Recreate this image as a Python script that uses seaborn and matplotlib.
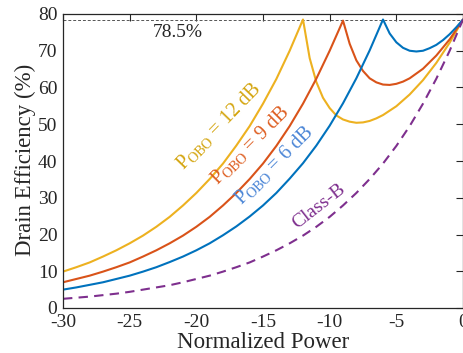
import numpy as np
import pandas as pd
import seaborn as sns
import matplotlib.pyplot as plt

# Valores (potência normalizada em dB, eficiência em %)
pot_b = [-30, -29, -28, -27, -26, -25, -24, -23, -22, -21, -20, -19, -18, -17, -16,
         -15, -14, -13, -12, -11, -10, -9, -8, -7, -6, -5, -4, -3, -2, -1, 0]
ef_b = [2.5, 2.8, 3.1, 3.5, 3.9, 4.4, 5.0, 5.6, 6.2, 7.0, 7.9, 8.8, 9.9, 11.1, 12.4,
        14.0, 15.7, 17.6, 19.7, 22.1, 24.8, 27.9, 31.3, 35.1, 39.3, 44.1, 49.5, 55.6,
        62.4, 70.0, 78.5]

pot_6 = [-30, -29, -28, -27, -26, -25, -24, -23, -22, -21, -20, -19, -18, -17, -16,
         -15, -14, -13, -12, -11, -10, -9, -8, -7, -6, -5.5, -5, -4.5, -4, -3.5, -3,
         -2.5, -2, -1.5, -1, -0.5, 0]
ef_6 = [5.0, 5.6, 6.3, 7.0, 7.9, 8.8, 9.9, 11.1, 12.5, 14.0, 15.7, 17.6, 19.8, 22.2,
        24.9, 27.9, 31.3, 35.2, 39.4, 44.2, 49.6, 55.7, 62.5, 70.1, 78.5, 74.7, 72.3,
        70.8, 70.0, 69.8, 70.0, 70.7, 71.6, 72.9, 74.5, 76.4, 78.5]

pot_9 = [-30, -29, -28, -27, -26, -25, -24, -23, -22, -21, -20, -19, -18, -17, -16,
         -15, -14, -13, -12, -11, -10, -9, -8.5, -8, -7.5, -7, -6.5, -6, -5.5, -5,
         -4.5, -4, -3, -2, -1, 0]
ef_9 = [7.0, 7.9, 8.8, 9.9, 11.1, 12.4, 14.0, 15.7, 17.6, 19.7, 22.1, 24.8, 27.9,
        31.3, 35.1, 39.3, 44.1, 49.5, 55.6, 62.4, 70.0, 78.2, 71.9, 67.4, 64.5, 62.5,
        61.4, 60.8, 60.7, 61.0, 61.6, 62.5, 65.1, 68.7, 73.1, 78.5]

pot_12 = [-30, -29, -28, -27, -26, -25, -24, -23, -22, -21, -20, -19, -18, -17, -16,
          -15, -14, -13, -12, -11.5, -11, -10.5, -10, -9.5, -9, -8.5, -8, -7.5, -7,
          -6.5, -6, -5, -4, -3, -2, -1, 0]
ef_12 = [9.9, 11.1, 12.4, 14.0, 15.7, 17.6, 19.7, 22.1, 24.8, 27.9, 31.3, 35.1, 39.3,
         44.2, 49.5, 55.6, 62.3, 70.0, 78.5, 68.0, 61.5, 57.2, 54.4, 52.4, 51.3, 50.7,
         50.4, 50.5, 50.9, 51.6, 52.5, 54.9, 58.1, 62.0, 66.7, 72.2, 78.5]

ef_max = 78.5

# Configuração visual
sns.set_style("white")
plt.rcParams['font.family'] = ['Liberation Serif', 'DejaVu Serif']
plt.rcParams['mathtext.fontset'] = 'custom'
plt.rcParams['mathtext.rm'] = 'Liberation Serif'
plt.rcParams['mathtext.it'] = 'Liberation Serif:italic'
plt.rcParams['axes.unicode_minus'] = False

cor_azul = '#0072BD'
cor_verm = '#D95319'
cor_amar = '#EDB120'
cor_roxo = '#7E2F8E'

fig = plt.figure(figsize=(4.64, 3.53), dpi=100)
ax = fig.add_axes([63 / 464, 1 - 308 / 353, 400 / 464, 294 / 353])

ax.axhline(ef_max, color='#555555', linestyle=(0, (3, 2)), linewidth=0.7, zorder=1)

sns.lineplot(x=pot_12, y=ef_12, color=cor_amar, linewidth=1.5, ax=ax)
sns.lineplot(x=pot_9, y=ef_9, color=cor_verm, linewidth=1.5, ax=ax)
sns.lineplot(x=pot_6, y=ef_6, color=cor_azul, linewidth=1.5, ax=ax)
sns.lineplot(x=pot_b, y=ef_b, color=cor_roxo, linewidth=1.5, ax=ax,
             linestyle=(0, (4.5, 3)))

ax.set_xlim(-30, 0)
ax.set_ylim(0, 80)
ax.set_xticks(range(-30, 1, 5))
ax.set_yticks(range(0, 81, 10))
ax.tick_params(direction='in', length=5, width=0.8, labelsize=14, colors='#262626',
               top=True, right=True, pad=4)
for s in ax.spines.values():
    s.set_color('#262626')
    s.set_linewidth(0.9)

ax.set_xlabel('Normalized Power', fontsize=16.5, color='#262626')
ax.set_ylabel('Drain Efficiency (%)', fontsize=16.5, color='#262626')
ax.xaxis.set_label_coords(0.5, -0.082)
ax.yaxis.set_label_coords(-0.067, 0.503)

# Anotações
ax.text(-23.3, 73.7, '78.5%', fontsize=14, color='#262626', ha='left', va='baseline')
ax.text(-21.0, 37.3, 'P$_{\\mathrm{OBO}}$ = 12 dB', fontsize=14.5, color='#D4A50F',
        rotation=46, rotation_mode='anchor', ha='left', va='baseline')
ax.text(-18.45, 33.3, 'P$_{\\mathrm{OBO}}$ = 9 dB', fontsize=14.5, color='#DE5F22',
        rotation=45, rotation_mode='anchor', ha='left', va='baseline')
ax.text(-16.6, 27.9, 'P$_{\\mathrm{OBO}}$ = 6 dB', fontsize=14.5, color='#4A85D6',
        rotation=45, rotation_mode='anchor', ha='left', va='baseline')
ax.text(-12.45, 21.5, 'Class-B', fontsize=14, color=cor_roxo,
        rotation=38, rotation_mode='anchor', ha='left', va='baseline')

fig.savefig('out.png', dpi=100)
